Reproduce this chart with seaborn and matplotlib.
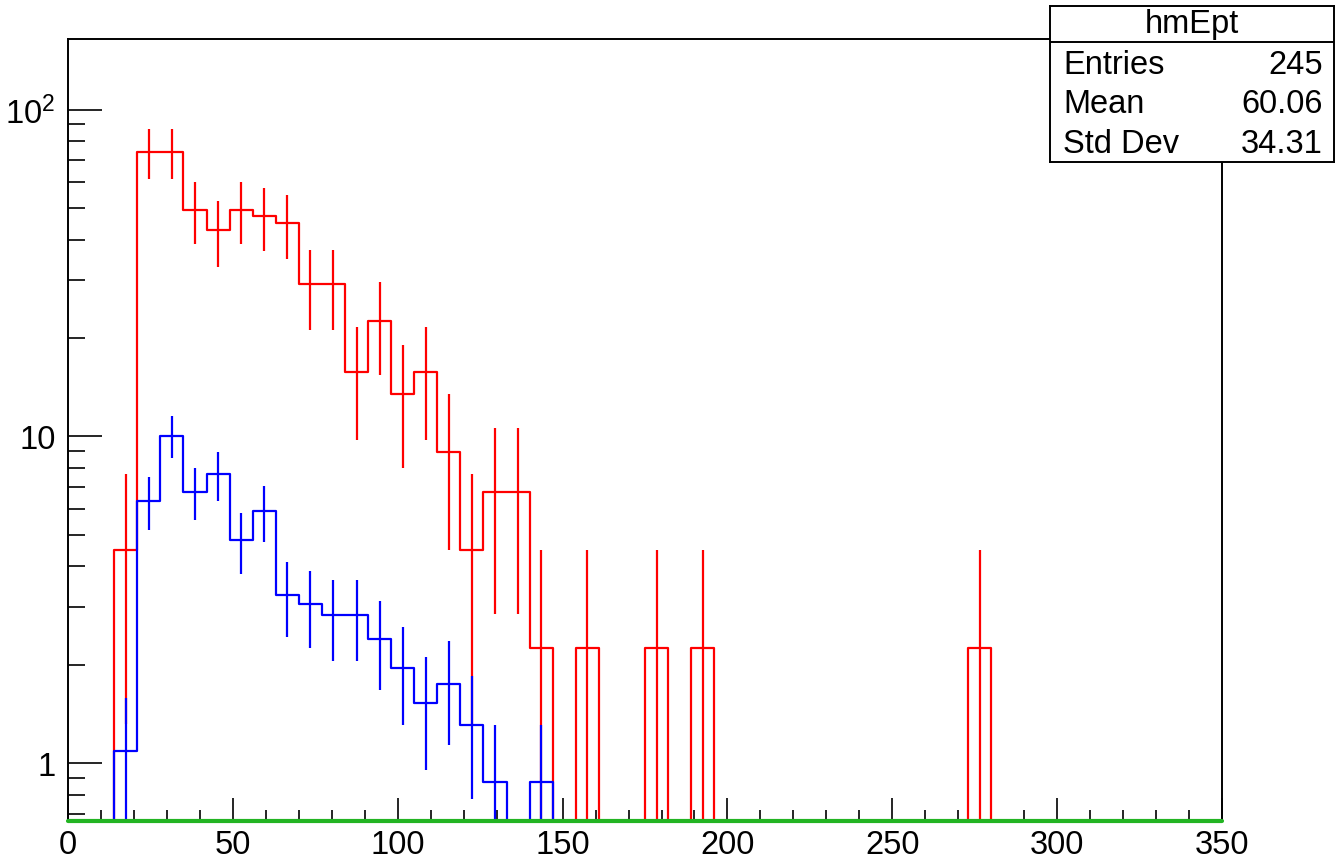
import numpy as np
import pandas as pd
import matplotlib
matplotlib.use("Agg")
import matplotlib.pyplot as plt
import seaborn as sns
from matplotlib.ticker import FixedLocator, FixedFormatter, NullFormatter, MultipleLocator

# ------------------------------------------
# DATA
# ------------------------------------------

# 50 bins of width 7 between 0 and 350
bin_width = 7
x_range = (0, 350)
bin_edges = np.arange(x_range[0], x_range[1] + 1, bin_width)

# red histogram (hmEpt): lower bin edge, content, error
red_bins = [14, 21, 28, 35, 42, 49, 56, 63, 70, 77, 84, 91, 98, 105, 112,
            119, 126, 133, 140, 154, 175, 189, 273]
red_values = [4.49, 74.1, 74.1, 49.4, 42.7, 49.4, 47.1, 44.9, 29.2, 29.2,
              15.7, 22.5, 13.5, 15.7, 8.98, 4.49, 6.74, 6.74, 2.25, 2.25,
              2.25, 2.25, 2.25]
red_errors = [3.17, 12.9, 12.9, 10.5, 9.79, 10.5, 10.3, 10.0, 8.09, 8.09,
              5.94, 7.10, 5.50, 5.94, 4.49, 3.17, 3.89, 3.89, 2.25, 2.25,
              2.25, 2.25, 2.25]

# blue histogram
blue_bins = [14, 21, 28, 35, 42, 49, 56, 63, 70, 77, 84, 91, 98, 105, 112,
             119, 126, 140]
blue_values = [1.09, 6.33, 10.04, 6.77, 7.64, 4.80, 5.89, 3.27, 3.06, 2.84,
               2.84, 2.40, 1.96, 1.53, 1.75, 1.31, 0.873, 0.873]
blue_errors = [0.488, 1.176, 1.481, 1.215, 1.291, 1.024, 1.134, 0.845, 0.817,
               0.787, 0.787, 0.724, 0.655, 0.578, 0.617, 0.535, 0.437, 0.437]

# green histogram: empty everywhere
green_values = np.zeros(len(bin_edges))

# stats box
stats_title = "hmEpt"
stats_names = ["Entries", "Mean", "Std Dev"]
stats_values = ["245", "60.06", "34.31"]

y_min, y_max = 0.6645, 164.4

# ------------------------------------------
# STYLE
# ------------------------------------------

sns.set_style("ticks")
plt.rcParams["font.family"] = ["Liberation Sans", "DejaVu Sans"]
plt.rcParams["mathtext.default"] = "regular"
plt.rcParams["text.color"] = "black"
plt.rcParams["xtick.color"] = "black"
plt.rcParams["ytick.color"] = "black"

FS = 23.5

fig = plt.figure(figsize=(13.37, 8.62), dpi=100)
ax = fig.add_axes([0.0509, 0.0464, 0.8631, 0.9072])

# ------------------------------------------
# HISTOGRAMS
# ------------------------------------------

def draw_hist(bins, values, errors, color):
    df = pd.DataFrame({"pt": np.array(bins) + bin_width / 2, "w": values})
    sns.histplot(data=df, x="pt", weights="w", binwidth=bin_width,
                 binrange=x_range, element="step", fill=False, color=color,
                 linewidth=1.6, ax=ax)
    vals = np.array(values)
    errs = np.array(errors)
    lower = np.minimum(errs, vals - 1e-3)
    ax.errorbar(df["pt"], vals, yerr=[lower, errs], fmt="none",
                ecolor=color, elinewidth=1.6, capsize=0)

draw_hist(red_bins, red_values, red_errors, "#ff0000")
draw_hist(blue_bins, blue_values, blue_errors, "#0000ff")

# empty green histogram sits on the bottom of the frame
sns.lineplot(x=bin_edges, y=np.maximum(green_values, y_min), color="#22b422",
             linewidth=3, ax=ax, clip_on=False, zorder=5)

# ------------------------------------------
# AXES
# ------------------------------------------

ax.set_yscale("log")
ax.set_xlim(*x_range)
ax.set_ylim(y_min, y_max)
ax.set_xlabel("")
ax.set_ylabel("")

ax.xaxis.set_major_locator(MultipleLocator(50))
ax.xaxis.set_minor_locator(MultipleLocator(10))
ax.yaxis.set_major_locator(FixedLocator([1, 10, 100]))
ax.yaxis.set_major_formatter(FixedFormatter(["1", "10", "$10^{2}$"]))
ax.yaxis.set_minor_locator(FixedLocator([0.7, 0.8, 0.9] + list(range(2, 10))
                                        + list(range(20, 100, 10))))
ax.yaxis.set_minor_formatter(NullFormatter())

ax.tick_params(axis="x", which="major", direction="in", length=16.5,
               width=1.2, labelsize=FS, pad=6, color="black",
               labelcolor="black", top=False)
ax.tick_params(axis="x", which="minor", direction="in", length=8,
               width=1.2, color="black", top=False)
ax.tick_params(axis="y", which="major", direction="in", length=24.5,
               width=1.2, labelsize=FS, pad=9, color="black",
               labelcolor="black", right=False)
ax.tick_params(axis="y", which="minor", direction="in", length=12,
               width=1.2, color="black", right=False)

for s in ax.spines.values():
    s.set_linewidth(1.4)
    s.set_color("black")

# ------------------------------------------
# STATS BOX
# ------------------------------------------

box = fig.add_axes([0.7853, 0.8109, 0.2124, 0.181])
box.set_xticks([])
box.set_yticks([])
box.set_xlim(0, 1)
box.set_ylim(0, 1)
box.set_facecolor("white")
for s in box.spines.values():
    s.set_linewidth(1.4)
    s.set_color("black")
box.axhline(0.769, color="black", linewidth=1.4)
box.text(0.5, 0.885, stats_title, ha="center", va="center", fontsize=FS)
for i, (name, val) in enumerate(zip(stats_names, stats_values)):
    yy = 0.628 - i * 0.256
    box.text(0.046, yy, name, ha="left", va="center", fontsize=FS)
    box.text(0.961, yy, val, ha="right", va="center", fontsize=FS)

fig.savefig("out.png", dpi=100)
